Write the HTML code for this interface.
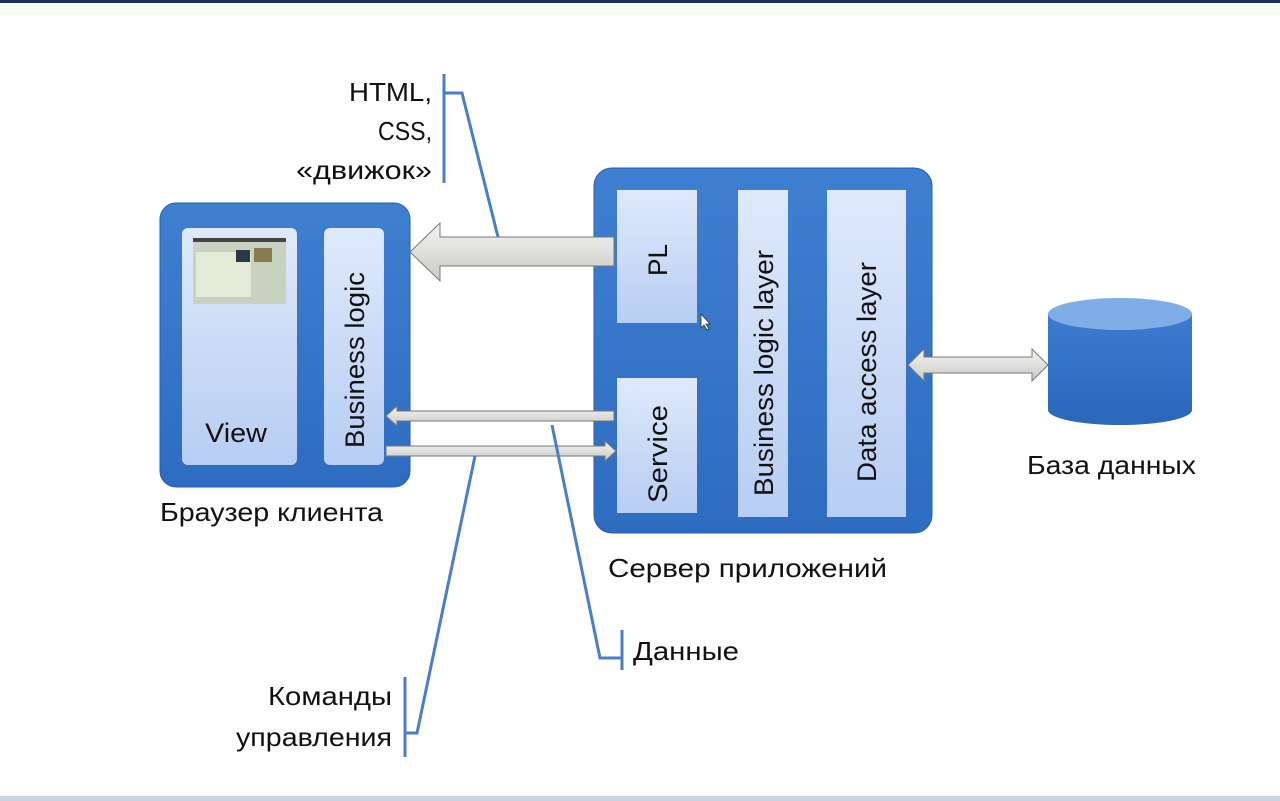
<!DOCTYPE html>
<html><head><meta charset="utf-8"><style>
html,body{margin:0;padding:0;background:#fff;width:1280px;height:801px;overflow:hidden}
svg{display:block}
text{font-family:"Liberation Sans","DejaVu Sans",sans-serif;fill:#111}
</style></head><body>
<svg width="1280" height="801" viewBox="0 0 1280 801" xmlns="http://www.w3.org/2000/svg">
<defs>
<linearGradient id="inner" x1="0" y1="0" x2="0" y2="1"><stop offset="0" stop-color="#dfe9fb"/><stop offset="1" stop-color="#b7cdf3"/></linearGradient>
<linearGradient id="box" x1="0" y1="0" x2="0" y2="1"><stop offset="0" stop-color="#3f7fd0"/><stop offset="1" stop-color="#2d6cc0"/></linearGradient>
<linearGradient id="arr" x1="0" y1="0" x2="0" y2="1"><stop offset="0" stop-color="#f4f4f2"/><stop offset="1" stop-color="#c9c9c6"/></linearGradient>
<linearGradient id="cyl" x1="0" y1="0" x2="0" y2="1"><stop offset="0" stop-color="#3d7bd0"/><stop offset="1" stop-color="#2a67ba"/></linearGradient>
</defs>
<rect x="0" y="0" width="1280" height="3" fill="#1c2f5a"/>
<rect x="0" y="3" width="1280" height="12" fill="#f6fbf4"/>
<rect x="0" y="796" width="1280" height="5" fill="#c9d4e2"/>

<!-- client box -->
<rect x="160" y="203" width="250" height="284" rx="16" fill="url(#box)" stroke="#2a5fae" stroke-width="1"/>
<rect x="182" y="228" width="115" height="237" rx="6" fill="url(#inner)"/>
<rect x="324" y="228" width="60" height="237" rx="6" fill="url(#inner)"/>
<rect x="193" y="238" width="93" height="66" fill="#c8d2c0"/>
<rect x="193" y="238" width="93" height="4" fill="#444"/>
<rect x="196" y="252" width="55" height="45" fill="#e4ead8"/>
<rect x="254" y="248" width="18" height="14" fill="#8a7a50"/>
<rect x="236" y="250" width="14" height="12" fill="#2a3a44"/>
<text x="205" y="442" font-size="27" textLength="62" lengthAdjust="spacingAndGlyphs">View</text>
<text transform="translate(364,448) rotate(-90)" font-size="27" textLength="176" lengthAdjust="spacingAndGlyphs">Business logic</text>

<!-- server box -->
<rect x="594" y="168" width="338" height="365" rx="18" fill="url(#box)" stroke="#2a5fae" stroke-width="1"/>
<rect x="617" y="190" width="80" height="133" fill="url(#inner)"/>
<rect x="617" y="378" width="80" height="135" fill="url(#inner)"/>
<rect x="738" y="190" width="50" height="327" fill="url(#inner)"/>
<rect x="827" y="190" width="79" height="327" fill="url(#inner)"/>
<text transform="translate(667,276) rotate(-90)" font-size="27" textLength="32" lengthAdjust="spacingAndGlyphs">PL</text>
<text transform="translate(667,503) rotate(-90)" font-size="27" textLength="98" lengthAdjust="spacingAndGlyphs">Service</text>
<text transform="translate(773,496) rotate(-90)" font-size="27" textLength="246" lengthAdjust="spacingAndGlyphs">Business logic layer</text>
<text transform="translate(876,482) rotate(-90)" font-size="27" textLength="220" lengthAdjust="spacingAndGlyphs">Data access layer</text>
<path d="M701,314 l0,14 l3,-3 l3,5 l2,-1 l-3,-5 l4,0 z" fill="#fff" stroke="#333" stroke-width="0.8"/>

<!-- arrows -->
<path d="M614,237 L440,237 L440,223 L410,252 L440,281 L440,266 L614,266 Z" fill="url(#arr)" stroke="#777" stroke-width="1"/>
<path d="M614,411 L397,411 L397,406 L386,416 L397,426 L397,421 L614,421 Z" fill="url(#arr)" stroke="#777" stroke-width="1"/>
<path d="M386,446 L605,446 L605,441 L616,451 L605,461 L605,456 L386,456 Z" fill="url(#arr)" stroke="#777" stroke-width="1"/>
<path d="M908,365 L924,349 L924,357 L1032,357 L1032,349 L1048,365 L1032,381 L1032,373 L924,373 L924,381 Z" fill="url(#arr)" stroke="#777" stroke-width="1"/>

<!-- cylinder -->
<path d="M1048,314 L1048,410 A72,15 0 0 0 1192,410 L1192,314 Z" fill="url(#cyl)"/>
<ellipse cx="1120" cy="314" rx="72" ry="16" fill="#7faee6"/>

<!-- labels -->
<text x="160" y="521" font-size="26" textLength="223" lengthAdjust="spacingAndGlyphs">Браузер клиента</text>
<text x="608" y="577" font-size="26" textLength="279" lengthAdjust="spacingAndGlyphs">Сервер приложений</text>
<text x="1027" y="474" font-size="26" textLength="169" lengthAdjust="spacingAndGlyphs">База данных</text>
<text x="349" y="101" font-size="26" textLength="83" lengthAdjust="spacingAndGlyphs">HTML,</text>
<text x="378" y="140" font-size="26" textLength="54" lengthAdjust="spacingAndGlyphs">CSS,</text>
<text x="296" y="179" font-size="26" textLength="136" lengthAdjust="spacingAndGlyphs">«движок»</text>
<text x="633" y="660" font-size="26" textLength="106" lengthAdjust="spacingAndGlyphs">Данные</text>
<text x="268" y="705" font-size="26" textLength="124" lengthAdjust="spacingAndGlyphs">Команды</text>
<text x="236" y="746" font-size="26" textLength="156" lengthAdjust="spacingAndGlyphs">управления</text>

<!-- connector lines -->
<g stroke="#4a7fc4" stroke-width="3" fill="none">
<path d="M444,74 L444,183"/>
<path d="M444,93 L462,93 L498,237"/>
<path d="M552,425 L600,658 L622,658"/>
<path d="M622,630 L622,670"/>
<path d="M405,677 L405,757"/>
<path d="M405,733 L417,733 L475,456"/>
</g>
</svg>
</body></html>
